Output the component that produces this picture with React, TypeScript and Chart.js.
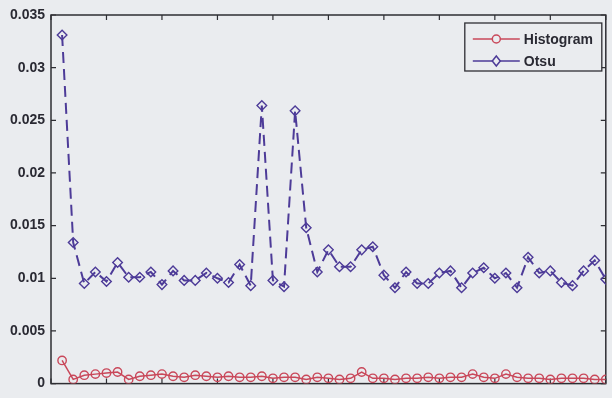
import React, { useEffect, useRef } from "react";
import { Chart, registerables } from "chart.js";

Chart.register(...registerables);

const xValues = [1, 2, 3, 4, 5, 6, 7, 8, 9, 10, 11, 12, 13, 14, 15, 16, 17, 18, 19, 20, 21, 22, 23, 24, 25, 26, 27, 28, 29, 30, 31, 32, 33, 34, 35, 36, 37, 38, 39, 40, 41, 42, 43, 44, 45, 46, 47, 48, 49, 50];

const histogramValues = [
  0.0022, 0.0004, 0.0008, 0.0009, 0.001, 0.0011, 0.0004, 0.0007, 0.0008, 0.0009,
  0.0007, 0.0006, 0.0008, 0.0007, 0.0006, 0.0007, 0.0006, 0.0006, 0.0007, 0.0005,
  0.0006, 0.0006, 0.0004, 0.0006, 0.0005, 0.0004, 0.0005, 0.0011, 0.0005, 0.0005,
  0.0004, 0.0005, 0.0005, 0.0006, 0.0005, 0.0006, 0.0006, 0.0009, 0.0006, 0.0005,
  0.0009, 0.0006, 0.0005, 0.0005, 0.0004, 0.0005, 0.0005, 0.0005, 0.0004, 0.0004,
];

const otsuValues = [
  0.0331, 0.0134, 0.0095, 0.0106, 0.0097, 0.0115, 0.0101, 0.0101, 0.0106, 0.0094,
  0.0107, 0.0098, 0.0098, 0.0105, 0.01, 0.0096, 0.0113, 0.0093, 0.0264, 0.0098,
  0.0092, 0.0259, 0.0148, 0.0106, 0.0127, 0.0111, 0.0111, 0.0127, 0.013, 0.0103,
  0.0091, 0.0106, 0.0095, 0.0095, 0.0105, 0.0107, 0.0091, 0.0105, 0.011, 0.01,
  0.0105, 0.0091, 0.012, 0.0105, 0.0107, 0.0096, 0.0093, 0.0107, 0.0117, 0.0099,
];

const yTicks = [0, 0.005, 0.01, 0.015, 0.02, 0.025, 0.03, 0.035];
const xTicks = [0, 5, 10, 15, 20, 25, 30, 35, 40, 45, 50];
const seriesNames = ["Histogram", "Otsu"];

const BG = "#eaecef";
const AXIS = "#2e2e33";
const RED = "#c9485a";
const PURPLE = "#4d3b98";
const FONT = '"Liberation Sans", Arial, sans-serif';

const framePlugin = {
  id: "matlabFrame",
  beforeDraw(chart: any) {
    const { ctx, width, height } = chart;
    ctx.save();
    ctx.fillStyle = BG;
    ctx.fillRect(0, 0, width, height);
    ctx.restore();
  },
  beforeDatasetsDraw(chart: any) {
    const { ctx, chartArea, scales } = chart;
    const { left, right, top, bottom } = chartArea;
    ctx.save();
    ctx.strokeStyle = AXIS;
    ctx.lineWidth = 1.5;
    ctx.strokeRect(left, top, right - left, bottom - top);
    ctx.lineWidth = 1.2;
    ctx.beginPath();
    for (const t of xTicks) {
      const px = scales.x.getPixelForValue(t);
      ctx.moveTo(px, bottom);
      ctx.lineTo(px, bottom - 5);
      ctx.moveTo(px, top);
      ctx.lineTo(px, top + 5);
    }
    for (const t of yTicks) {
      const py = scales.y.getPixelForValue(t);
      ctx.moveTo(left, py);
      ctx.lineTo(left + 5, py);
      ctx.moveTo(right, py);
      ctx.lineTo(right - 5, py);
    }
    ctx.stroke();
    ctx.restore();
  },
  afterDraw(chart: any) {
    const { ctx, chartArea } = chart;
    const boxRight = chartArea.right - 4;
    const boxTop = chartArea.top + 8;
    const boxW = 137;
    const boxH = 48;
    const boxLeft = boxRight - boxW;
    ctx.save();
    ctx.fillStyle = BG;
    ctx.fillRect(boxLeft, boxTop, boxW, boxH);
    ctx.strokeStyle = AXIS;
    ctx.lineWidth = 1.3;
    ctx.strokeRect(boxLeft, boxTop, boxW, boxH);
    const rows = [
      { name: seriesNames[0], color: RED, style: "circle" },
      { name: seriesNames[1], color: PURPLE, style: "diamond" },
    ];
    rows.forEach((r, i) => {
      const cy = boxTop + 16 + i * 22;
      const x0 = boxLeft + 8;
      const x1 = boxLeft + 55;
      const mx = (x0 + x1) / 2;
      ctx.strokeStyle = r.color;
      ctx.lineWidth = 1.5;
      ctx.beginPath();
      ctx.moveTo(x0, cy);
      ctx.lineTo(x1, cy);
      ctx.stroke();
      ctx.beginPath();
      if (r.style === "circle") {
        ctx.arc(mx, cy, 4, 0, Math.PI * 2);
      } else {
        ctx.moveTo(mx, cy - 5);
        ctx.lineTo(mx + 4, cy);
        ctx.lineTo(mx, cy + 5);
        ctx.lineTo(mx - 4, cy);
        ctx.closePath();
      }
      ctx.fillStyle = BG;
      ctx.fill();
      ctx.stroke();
      ctx.fillStyle = "#2a2a33";
      ctx.font = `bold 14px ${FONT}`;
      ctx.textBaseline = "middle";
      ctx.textAlign = "left";
      ctx.fillText(r.name, x1 + 4, cy + 1);
    });
    ctx.restore();
  },
};

export default function App() {
  const canvasRef = useRef<HTMLCanvasElement | null>(null);

  useEffect(() => {
    const canvas = canvasRef.current;
    if (!canvas) return;
    const chart = new Chart(canvas, {
      type: "line",
      data: {
        datasets: [
          {
            label: seriesNames[0],
            data: xValues.map((x, i) => ({ x, y: histogramValues[i] })),
            borderColor: RED,
            borderWidth: 1.5,
            pointStyle: "circle",
            pointRadius: 4.2,
            pointBorderWidth: 1.4,
            pointBorderColor: RED,
            pointBackgroundColor: "rgba(0,0,0,0)",
            tension: 0,
          },
          {
            label: seriesNames[1],
            data: xValues.map((x, i) => ({ x, y: otsuValues[i] })),
            borderColor: PURPLE,
            borderWidth: 2,
            borderDash: [11, 6],
            pointStyle: "rectRot",
            pointRadius: 4.8,
            pointBorderWidth: 1.4,
            pointBorderColor: PURPLE,
            pointBackgroundColor: "rgba(0,0,0,0)",
            tension: 0,
          },
        ],
      },
      options: {
        responsive: false,
        animation: false,
        layout: { padding: { top: 15, right: 1, left: 0, bottom: 0 } },
        plugins: {
          legend: { display: false },
          tooltip: { enabled: false },
        },
        scales: {
          x: {
            type: "linear",
            min: 0,
            max: 50,
            ticks: { display: false, stepSize: 5 },
            grid: { display: false },
            border: { display: false },
            afterFit: (s: any) => {
              s.height = 8;
            },
          },
          y: {
            min: 0,
            max: 0.035,
            afterBuildTicks: (s: any) => {
              s.ticks = yTicks.map((v) => ({ value: v }));
            },
            ticks: {
              color: "#2a2a33",
              font: { family: FONT, size: 14, weight: "bold" },
              padding: 6,
              callback: (v: any) => String(Number(Number(v).toFixed(3))),
            },
            grid: { display: false, drawTicks: false },
            border: { display: false },
            afterFit: (s: any) => {
              s.width = 51;
            },
          },
        },
      },
      plugins: [framePlugin],
    } as any);
    return () => chart.destroy();
  }, []);

  return (
    <div style={{ position: "fixed", left: 0, top: 0, width: 612, height: 398, background: BG }}>
      <canvas ref={canvasRef} width={612} height={398} style={{ display: "block" }} />
    </div>
  );
}
